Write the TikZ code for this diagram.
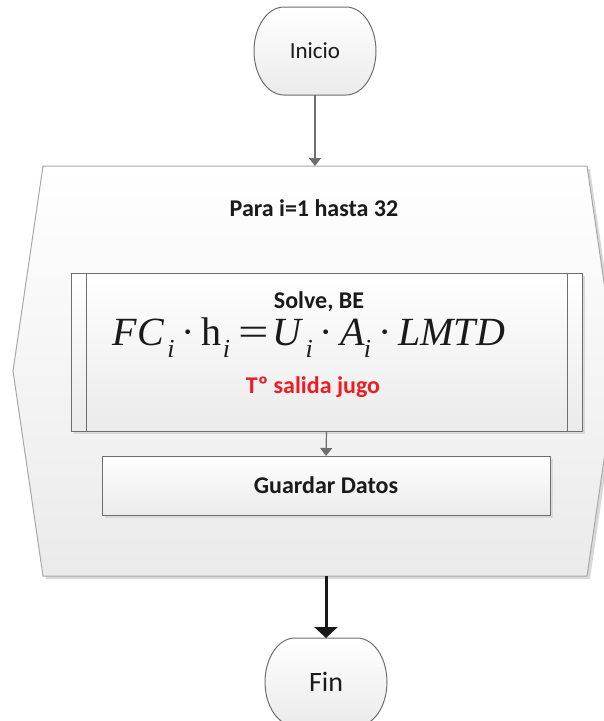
\documentclass[tikz,border=0pt]{standalone}
\usepackage{fontspec}
\usepackage{graphicx}
\setmainfont{Carlito}
\newfontfamily\tnr{Liberation Serif}
\usetikzlibrary{arrows.meta}
\definecolor{edge}{HTML}{6E6E6E}
\definecolor{loopedge}{HTML}{A8A8A8}
\definecolor{redtxt}{HTML}{ED1C24}
\definecolor{txt}{HTML}{1A1A1A}
\definecolor{shadowc}{HTML}{D9D9D9}
\newcommand\eqsub[1]{\raisebox{-0.30em}{\fontsize{26}{26}\selectfont\itshape #1}}
\newcommand\termpath[2]{({#1-31},#2) -- ({#1+31},#2) .. controls ({#1+47.6},#2) and ({#1+61},{#2+19.7}) .. ({#1+61},{#2+44}) .. controls ({#1+61},{#2+68.3}) and ({#1+47.6},{#2+88}) .. ({#1+31},{#2+88}) -- ({#1-31},{#2+88}) .. controls ({#1-47.6},{#2+88}) and ({#1-61},{#2+68.3}) .. ({#1-61},{#2+44}) .. controls ({#1-61},{#2+19.7}) and ({#1-47.6},#2) .. cycle}
\tikzset{
  grad/.style={top color=white, bottom color=black!8},
  shadowfill/.style={fill=shadowc, draw=none},
  boxline/.style={draw=edge, line width=1pt},
  lbl/.style={font=\fontsize{24}{28}\selectfont\bfseries, text=txt, inner sep=0pt},
  anchorbox/.style={inner sep=0pt, outer sep=0pt, draw=none},
  flow/.style={draw=edge, line width=1.2pt, -{Triangle[length=8pt,width=12pt]}},
  strongflow/.style={draw=black!90, line width=3pt, -{Triangle[length=11pt,width=23pt]}},
}
\begin{document}
\begin{tikzpicture}[x=1pt,y=-1pt]
\useasboundingbox (0,0) rectangle (604,721);
\begin{scope}
\clip (0,0) rectangle (604,721);
% ---------- Inicio ----------
\draw[boxline, grad] \termpath{315}{7};
\node[anchorbox, minimum width=122pt, minimum height=88pt, font=\fontsize{23}{27}\selectfont, text=txt] (inicio) at (315,51) {Inicio};
% ---------- Loop shape ----------
\path[shadowfill] (46,169) -- (590,169) -- (620,374) -- (590,579) -- (46,579) -- (16,374) -- cycle;
\path[draw=loopedge, line width=1pt, grad] (43,166) -- (587,166) -- (617,371) -- (587,576) -- (43,576) -- (13,371) -- cycle;
\node[anchorbox, minimum width=544pt, minimum height=410pt] (loop) at (315,371) {};
\node[lbl] (para) at (314,208) {Para i=1 hasta 32};
% ---------- Solve box ----------
\path[shadowfill] (74,276) rectangle (585,434);
\draw[boxline, grad] (71,273) rectangle (582,431);
\draw[boxline] (86,273) -- (86,431);
\draw[boxline] (567,273) -- (567,431);
\node[anchorbox, minimum width=511pt, minimum height=158pt] (solve) at (326.5,352) {};
\node[lbl] (solvetxt) at (319,302) {Solve, BE};
\node[anchorbox, anchor=base, text=txt, font=\tnr\fontsize{40}{44}\selectfont] (eq) at (309,345)
  {\textit{FC}\kern3pt\eqsub{i}\kern7pt·\kern7pt h\kern1pt\eqsub{i}\kern8pt\scalebox{1.35}[1]{=}\kern4pt\textit{U}\kern2pt\eqsub{i}\kern7pt·\kern7pt\textit{A}\kern-1pt\eqsub{i}\kern7pt·\kern7pt\textit{LMTD}};
\node[lbl, text=redtxt] (tsal) at (313,387) {Tº salida jugo};
% ---------- Guardar box ----------
\path[shadowfill] (105,459) rectangle (553,518);
\draw[boxline, grad] (102,456) rectangle (550,515);
\node[anchorbox, minimum width=448pt, minimum height=59pt] (guardar) at (326,485.5) {};
\node[lbl] (guardtxt) at (326,485) {Guardar Datos};
% ---------- Fin ----------
\draw[boxline, grad] \termpath{326}{638};
\node[anchorbox, minimum width=122pt, minimum height=88pt, font=\fontsize{28}{32}\selectfont, text=txt] (fin) at (326,682) {Fin};
\coordinate (loopout) at (326,576);
% ---------- connectors ----------
\draw[flow] (inicio.south) -- (loop.north);
\draw[flow] (solve.south) -- (guardar.north);
\draw[strongflow] (loopout) -- (fin.north);
\end{scope}
\end{tikzpicture}
\end{document}
